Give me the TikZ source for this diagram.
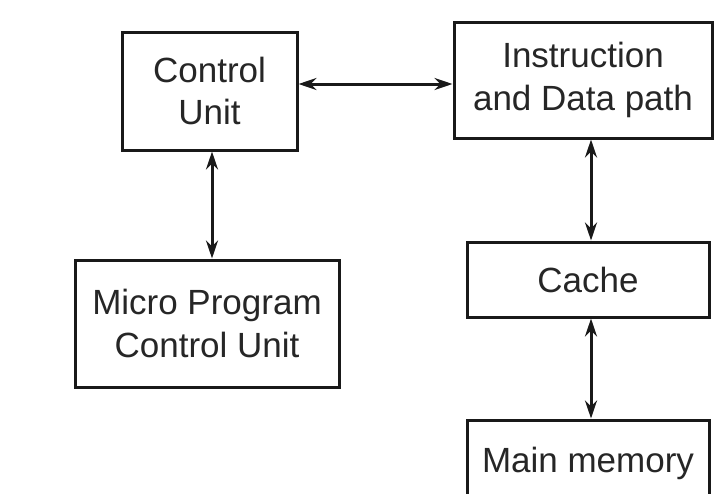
\documentclass[tikz,border=0pt]{standalone}
\usepackage{fontspec}
\setmainfont{Liberation Sans}
\usetikzlibrary{arrows.meta}
\begin{document}
\begin{tikzpicture}[x=1pt,y=-1pt,
  blk/.style={draw=black!90, line width=3pt, rectangle, inner sep=0pt, align=center,
    text=black!85, font=\fontsize{35}{43}\selectfont},
  arr/.style={line width=3pt, draw=black!90, {Stealth[length=18pt,width=12pt]}-{Stealth[length=18pt,width=12pt]}}]
\useasboundingbox[fill=white] (0,0) rectangle (719,493);
\node[blk, minimum width=175pt, minimum height=118pt] (CU) at (209.5,91) {Control\\[-1pt]Unit};
\node[blk, minimum width=258pt, minimum height=116pt] (IDP) at (583,80) {Instruction\\and Data path};
\node[blk, minimum width=264pt, minimum height=127pt] (MPCU) at (207,323.5) {Micro Program\\Control Unit};
\node[blk, minimum width=242pt, minimum height=75pt] (Cache) at (588,279.5) {Cache};
\node[blk, minimum width=242pt, minimum height=80pt, text depth=0pt] (MM) at (588,460) {Main memory};
\draw[arr] (CU.east |- 0,84) -- (IDP.west |- 0,84);
\draw[arr] (CU.south -| 212,0) -- (MPCU.north -| 212,0);
\draw[arr] (IDP.south -| 591,0) -- (Cache.north -| 591,0);
\draw[arr] (Cache.south -| 591,0) -- (MM.north -| 591,0);
\end{tikzpicture}
\end{document}
